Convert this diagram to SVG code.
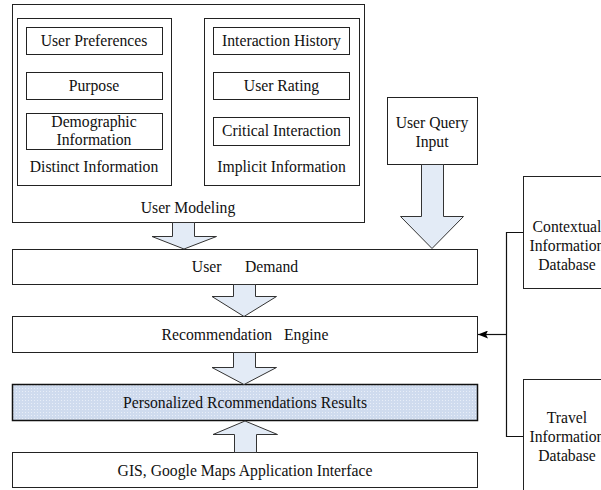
<svg xmlns="http://www.w3.org/2000/svg" width="601" height="490" viewBox="0 0 601 490">
<defs>
<style>
text{font-family:"Liberation Serif","Times New Roman",serif;font-size:15.7px;fill:#111;text-anchor:middle}
.box{fill:#fff;stroke:#222;stroke-width:1}
.arr{fill:#e3ebf6;stroke:#333;stroke-width:1;stroke-linejoin:miter}
.ln{fill:none;stroke:#111;stroke-width:1.2}
</style>
<pattern id="dots" width="3" height="3" patternUnits="userSpaceOnUse">
<rect width="3" height="3" fill="#cfdbee"/>
<rect x="1" y="1" width="1" height="1" fill="#e8eef8"/>
</pattern>
<marker id="ah" markerWidth="10" markerHeight="8" refX="10" refY="4" orient="auto" markerUnits="userSpaceOnUse">
<path d="M0,0 L10,4 L0,8 L2,4 Z" fill="#000"/>
</marker>
</defs>

<g id="user-modeling">
<rect class="box" x="12.5" y="4.5" width="352" height="218"/>
<text x="188" y="213">User Modeling</text>
</g>
<g id="distinct-information">
<rect class="box" x="17.5" y="18.5" width="154" height="167"/>
<text x="94" y="172">Distinct Information</text>
</g>
<g id="user-preferences">
<rect class="box" x="26.5" y="27.5" width="136" height="27"/>
<text x="94" y="46">User Preferences</text>
</g>
<g id="purpose">
<rect class="box" x="26.5" y="72.5" width="136" height="27"/>
<text x="94" y="91">Purpose</text>
</g>
<g id="demographic-information">
<rect class="box" x="26.5" y="113.5" width="136" height="36"/>
<text x="94" y="127">Demographic</text>
<text x="94" y="145">Information</text>
</g>
<g id="implicit-information">
<rect class="box" x="204.5" y="18.5" width="155" height="167"/>
<text x="281.5" y="172">Implicit Information</text>
</g>
<g id="interaction-history">
<rect class="box" x="213.5" y="27.5" width="136" height="27"/>
<text x="281.5" y="46">Interaction History</text>
</g>
<g id="user-rating">
<rect class="box" x="213.5" y="72.5" width="136" height="27"/>
<text x="281.5" y="91">User Rating</text>
</g>
<g id="critical-interaction">
<rect class="box" x="213.5" y="117.5" width="136" height="28"/>
<text x="281.5" y="136">Critical Interaction</text>
</g>
<g id="user-query-input">
<rect class="box" x="387.5" y="97.5" width="90" height="67"/>
<text x="432" y="128">User Query</text>
<text x="432" y="147">Input</text>
</g>
<g id="user-demand">
<rect class="box" x="12.5" y="249.5" width="465" height="35"/>
<text x="245" y="272" xml:space="preserve">User      Demand</text>
</g>
<g id="recommendation-engine">
<rect class="box" x="12.5" y="316.5" width="465" height="36"/>
<text x="245" y="340" xml:space="preserve">Recommendation   Engine</text>
</g>
<g id="personalized-results">
<rect x="12.5" y="384.5" width="465" height="36" fill="url(#dots)" stroke="#111" stroke-width="1.5"/>
<text x="245" y="408">Personalized Rcommendations Results</text>
</g>
<g id="gis-interface">
<rect class="box" x="12.5" y="452.5" width="465" height="35"/>
<text x="245" y="476">GIS, Google Maps Application Interface</text>
</g>
<g id="contextual-database">
<rect class="box" x="523.5" y="176.5" width="90" height="112"/>
<text x="567" y="232">Contextual</text>
<text x="567" y="251">Information</text>
<text x="567" y="270">Database</text>
</g>
<g id="travel-database">
<rect class="box" x="523.5" y="379.5" width="90" height="120"/>
<text x="567" y="423">Travel</text>
<text x="567" y="442">Information</text>
<text x="567" y="461">Database</text>
</g>

<g id="connectors">
<path class="arr" d="M172.5,222.5 L194.5,222.5 L194.5,236.5 L216.5,236.5 L184,249 L152,236.5 L172.5,236.5 Z"/>
<path class="arr" d="M421.5,164.5 L443.5,164.5 L443.5,216.5 L463.5,216.5 L432,248.5 L400.5,216.5 L421.5,216.5 Z"/>
<path class="arr" d="M233.5,284.5 L255.5,284.5 L255.5,296.5 L276.5,296.5 L244,316.5 L212,296.5 L233.5,296.5 Z"/>
<path class="arr" d="M233.5,352.5 L255.5,352.5 L255.5,367.5 L276.5,367.5 L244,384.5 L212,367.5 L233.5,367.5 Z"/>
<path class="arr" d="M234.5,452.5 L256.5,452.5 L256.5,434.5 L277.5,434.5 L245,421 L213,434.5 L234.5,434.5 Z"/>
<path class="ln" d="M523,232.5 L506.5,232.5 L506.5,436.5 L523,436.5"/>
<line class="ln" x1="506.5" y1="334.5" x2="478" y2="334.5" marker-end="url(#ah)"/>
</g>
</svg>
